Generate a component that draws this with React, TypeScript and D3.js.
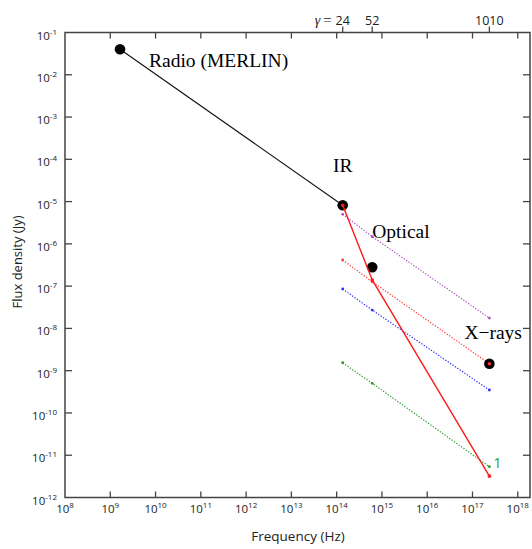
import React from "react";
import * as d3 from "d3";

// ---- data ----
const bandNames = ["Radio (MERLIN)", "IR", "Optical", "X\u2212rays"];
const bandFreq = [1.64e9, 1.36e14, 6.1e14, 2.36e17];
const bandFlux = [0.04, 8.2e-6, 2.8e-7, 1.46e-9];

const gammaLabels = ["24", "52", "1010"];
const gammaFreq = [1.36e14, 6.1e14, 2.36e17];

const modelFreq = [1.36e14, 6.1e14, 2.36e17];
const redSolidFlux = [8.2e-6, 1.4e-7, 3.2e-12];
const purpleFlux = [5.0e-6, 1.48e-6, 1.76e-8];
const redDotFlux = [4.15e-7, 1.27e-7, 1.46e-9];
const blueFlux = [8.55e-8, 2.72e-8, 3.49e-10];
const greenFlux = [1.54e-9, 5.02e-10, 5.35e-12];

const xTickExps = [8, 9, 10, 11, 12, 13, 14, 15, 16, 17, 18];
const yTickExps = [-1, -2, -3, -4, -5, -6, -7, -8, -9, -10, -11, -12];

const W = 532;
const H = 549;
const SANS = "'Open Sans', 'DejaVu Sans', sans-serif";
const SERIF = "'Liberation Serif', 'DejaVu Serif', serif";

export default function App() {
  const x = d3.scaleLog().domain([1e8, Math.pow(10, 18.27)]).range([65, 530]);
  const y = d3.scaleLog().domain([1e-12, 1e-1]).range([497.5, 32.5]);
  const left = 65, right = 530, top = 32.5, bottom = 497.5;
  const axisColor = "#444";

  const line = d3
    .line<[number, number]>()
    .x((d) => x(d[0]))
    .y((d) => y(d[1]));

  const pairs = (fs: number[], vs: number[]) =>
    fs.map((f, i) => [f, vs[i]] as [number, number]);

  const dotted = [
    { flux: purpleFlux, color: "#b050c8" },
    { flux: redDotFlux, color: "#ff3a3a" },
    { flux: blueFlux, color: "#2a2aff" },
    { flux: greenFlux, color: "#2a9a2a" },
  ];

  const labelPos = [
    { dx: 29, dy: 18, anchor: "start" },
    { dx: 0, dy: -33, anchor: "middle" },
    { dx: 0, dy: -29, anchor: "start" },
    { dx: -25, dy: -25, anchor: "start" },
  ];

  return (
    <div style={{ position: "absolute", left: 0, top: 0 }}>
      <svg width={W} height={H} style={{ display: "block", background: "#fff" }}>
        {/* frame */}
        <rect
          x={left}
          y={top}
          width={right - left}
          height={bottom - top}
          fill="#fff"
          stroke={axisColor}
          strokeWidth={1.5}
        />
        {/* x ticks bottom & top */}
        {xTickExps.map((e) => {
          const px = x(Math.pow(10, e));
          return (
            <g key={"x" + e}>
              {e > 8 && (
                <>
                  <line x1={px} x2={px} y1={bottom} y2={bottom - 6} stroke={axisColor} strokeWidth={1.3} />
                  <line x1={px} x2={px} y1={top} y2={top + 6} stroke={axisColor} strokeWidth={1.3} />
                </>
              )}
              <text
                x={px}
                y={bottom + 15}
                fontFamily={SANS}
                fontSize={11.5}
                textAnchor="middle"
                fill="#222"
              >
                10
                <tspan fontSize={8} dy={-5}>
                  {e}
                </tspan>
              </text>
            </g>
          );
        })}
        {/* y ticks left & right */}
        {yTickExps.map((e) => {
          const py = y(Math.pow(10, e));
          return (
            <g key={"y" + e}>
              {e > -12 && e < -1 && (
                <>
                  <line x1={left} x2={left + 7} y1={py} y2={py} stroke={axisColor} strokeWidth={1.3} />
                  <line x1={right} x2={right - 7} y1={py} y2={py} stroke={axisColor} strokeWidth={1.3} />
                </>
              )}
              <text
                x={57}
                y={py + 7}
                fontFamily={SANS}
                fontSize={11.5}
                textAnchor="end"
                fill="#222"
              >
                10
                <tspan fontSize={8} dy={-5}>
                  {e}
                </tspan>
              </text>
            </g>
          );
        })}
        {/* gamma ticks on top */}
        {gammaFreq.map((f, i) => {
          const px = x(f);
          return (
            <g key={"g" + i}>
              <line x1={px} x2={px} y1={top} y2={top - 6} stroke={axisColor} strokeWidth={1.3} />
              <text
                x={px}
                y={25}
                fontFamily={SANS}
                fontSize={12.5}
                textAnchor="middle"
                fill="#222"
              >
                {gammaLabels[i]}
              </text>
            </g>
          );
        })}
        <text x={x(gammaFreq[0]) - 11} y={25} fontFamily={SANS} fontSize={12.5} textAnchor="end" fill="#222">
          <tspan fontFamily={SERIF} fontStyle="italic" fontSize={14}>
            {"\u03b3"}
          </tspan>
          <tspan dx={3} fontFamily={SERIF} fontSize={15}>=</tspan>
        </text>

        {/* axis titles */}
        <text x={298} y={541} fontFamily={SANS} fontSize={13.5} textAnchor="middle" fill="#222">
          Frequency (Hz)
        </text>
        <text
          transform="translate(22,262) rotate(-90)"
          fontFamily={SANS}
          fontSize={13}
          textAnchor="middle"
          fill="#222"
        >
          Flux density (Jy)
        </text>

        {/* dotted model lines */}
        {dotted.map((d, i) => (
          <g key={"d" + i}>
            <path
              d={line(pairs(modelFreq, d.flux)) || ""}
              fill="none"
              stroke={d.color}
              strokeWidth={1.2}
              strokeDasharray="1.3,1.6"
            />
            {modelFreq.map((f, j) => (
              <circle key={j} cx={x(f)} cy={y(d.flux[j])} r={1.4} fill={d.color} />
            ))}
          </g>
        ))}
        <text
          x={x(modelFreq[2]) + 4}
          y={y(greenFlux[2]) + 1}
          fontFamily={SANS}
          fontSize={14}
          fill="#2a9a2a"
        >
          1
        </text>

        {/* black line radio -> IR */}
        <path
          d={line(pairs(bandFreq.slice(0, 2), bandFlux.slice(0, 2))) || ""}
          fill="none"
          stroke="#111"
          strokeWidth={1.1}
        />

        {/* black data points */}
        {bandFreq.map((f, i) => (
          <circle key={"b" + i} cx={x(f)} cy={y(bandFlux[i])} r={5.3} fill="#000" />
        ))}

        {/* red solid line */}
        <path
          d={line(pairs(modelFreq, redSolidFlux)) || ""}
          fill="none"
          stroke="#ff1a1a"
          strokeWidth={1.4}
        />
        {modelFreq.map((f, j) => (
          <circle key={"r" + j} cx={x(f)} cy={y(redSolidFlux[j])} r={1.8} fill="#ff1a1a" />
        ))}
        <circle cx={x(modelFreq[2])} cy={y(redDotFlux[2])} r={1.8} fill="#ff3030" />

        {/* band labels */}
        {bandNames.map((n, i) => (
          <text
            key={"l" + i}
            x={x(bandFreq[i]) + labelPos[i].dx}
            y={y(bandFlux[i]) + labelPos[i].dy}
            fontFamily={SERIF}
            fontSize={19.5}
            textAnchor={labelPos[i].anchor as any}
            fill="#000"
          >
            {n}
          </text>
        ))}
      </svg>
    </div>
  );
}
